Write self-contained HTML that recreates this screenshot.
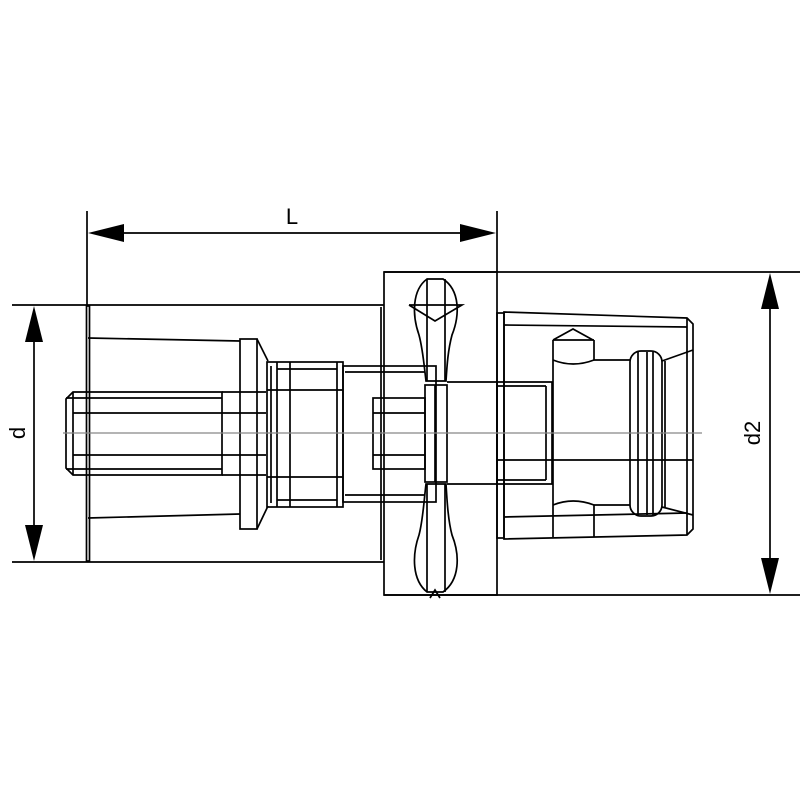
<!DOCTYPE html>
<html><head><meta charset="utf-8"><style>html,body{margin:0;padding:0;background:#fff}svg{display:block}</style></head>
<body>
<svg width="800" height="800" viewBox="0 0 800 800" xmlns="http://www.w3.org/2000/svg">
<g fill="none" stroke="#000" stroke-width="1.7">
<line x1="87" y1="211" x2="87" y2="305"/>
<line x1="497" y1="211" x2="497" y2="272"/>
<line x1="12" y1="305" x2="384" y2="305"/>
<line x1="12" y1="562" x2="384" y2="562"/>
<line x1="384" y1="272" x2="800" y2="272"/>
<line x1="384" y1="595" x2="800" y2="595"/>
<line x1="100" y1="233" x2="485" y2="233"/>
<line x1="34" y1="320" x2="34" y2="548"/>
<line x1="770" y1="285" x2="770" y2="582"/>
<rect x="86.5" y="306" width="3" height="255"/>
<polyline points="88,338 240,341"/>
<polyline points="88,518 240,514"/>
<rect x="240" y="339" width="17" height="190"/>
<polyline points="257,339 268,361"/>
<polyline points="257,529 268,506"/>
<polygon points="73,392 222,392 222,475 73,475 66,468 66,399"/>
<line x1="66" y1="398" x2="222" y2="398"/>
<line x1="66" y1="469" x2="222" y2="469"/>
<line x1="73" y1="413" x2="266" y2="413"/>
<line x1="73" y1="455" x2="266" y2="455"/>
<line x1="73" y1="392" x2="73" y2="475"/>
<line x1="222" y1="392" x2="266" y2="392"/>
<line x1="222" y1="475" x2="266" y2="475"/>
<rect x="267" y="362" width="76" height="145"/>
<line x1="271" y1="366" x2="271" y2="503"/>
<line x1="277" y1="362" x2="277" y2="507"/>
<line x1="290" y1="362" x2="290" y2="507"/>
<line x1="337" y1="362" x2="337" y2="507"/>
<line x1="277" y1="369" x2="337" y2="369"/>
<line x1="277" y1="500" x2="337" y2="500"/>
<line x1="267" y1="390" x2="343" y2="390"/>
<line x1="267" y1="477" x2="343" y2="477"/>
<rect x="343" y="366" width="93" height="136"/>
<line x1="345" y1="372" x2="425" y2="372"/>
<line x1="345" y1="495" x2="425" y2="495"/>
<rect x="373" y="398" width="52" height="71"/>
<line x1="373" y1="413" x2="425" y2="413"/>
<line x1="373" y1="455" x2="425" y2="455"/>
<rect x="384" y="272" width="113" height="323"/>
<line x1="381" y1="307" x2="381" y2="560"/>
<path d="M427,279 L443,279 C460,290 460,315 452,335 C448,350 447,365 446,381 L426,381 C424,365 423,350 419,335 C412,315 412,290 427,279 Z"/>
<path d="M427,592 L443,592 C460,580 460,555 452,535 C448,520 447,500 446,484 L426,484 C424,500 423,520 419,535 C412,555 412,580 427,592 Z"/>
<line x1="427" y1="279" x2="427" y2="381"/>
<line x1="445" y1="279" x2="445" y2="381"/>
<line x1="427" y1="484" x2="427" y2="592"/>
<line x1="445" y1="484" x2="445" y2="592"/>
<polyline points="409,305 462,305 435,321 409,305"/>
<polyline points="430,598 435,590 440,598"/>
<rect x="425" y="385" width="22" height="97"/>
<line x1="435" y1="385" x2="435" y2="482"/>
<polyline points="447,382 552,382 552,484 447,484"/>
<line x1="497" y1="382" x2="497" y2="484"/>
<line x1="546" y1="386" x2="546" y2="480"/>
<line x1="497" y1="386" x2="546" y2="386"/>
<line x1="497" y1="480" x2="546" y2="480"/>
<polygon points="504,312 687,318 693,324 693,529 687,535 504,539"/>
<rect x="497" y="313" width="7" height="225"/>
<line x1="504" y1="325" x2="687" y2="327"/>
<line x1="687" y1="318" x2="687" y2="535"/>
<line x1="504" y1="517" x2="687" y2="513"/>
<line x1="497" y1="460" x2="693" y2="460"/>
<line x1="553" y1="340" x2="553" y2="537"/>
<line x1="553" y1="340" x2="594" y2="340"/>
<line x1="594" y1="340" x2="594" y2="360"/>
<line x1="594" y1="505" x2="594" y2="537"/>
<polyline points="553,340 573,329 593,340"/>
<path d="M553,360 Q573,368 594,360"/>
<path d="M553,505 Q573,497 594,505"/>
<line x1="594" y1="360" x2="630" y2="360"/>
<line x1="594" y1="505" x2="630" y2="505"/>
<rect x="630" y="351" width="32" height="165" rx="11"/>
<line x1="638" y1="352" x2="638" y2="515"/>
<line x1="647" y1="352" x2="647" y2="515"/>
<line x1="653" y1="352" x2="653" y2="515"/>
<line x1="665" y1="361" x2="665" y2="507"/>
<polyline points="662,361 693,350"/>
<polyline points="662,507 693,515"/>
</g>
<line x1="63" y1="433" x2="702" y2="433" stroke="#888" stroke-width="1.2"/>
<g fill="#000">
<polygon points="88,233 124,224 124,242"/>
<polygon points="496,233 460,224 460,242"/>
<polygon points="34,306 25,342 43,342"/>
<polygon points="34,561 25,525 43,525"/>
<polygon points="770,273 761,309 779,309"/>
<polygon points="770,594 761,558 779,558"/>
</g>
<g font-family="Liberation Sans, sans-serif" font-size="22" fill="#000">
<text x="292" y="224" text-anchor="middle">L</text>
<text transform="translate(25,433) rotate(-90)" text-anchor="middle">d</text>
<text transform="translate(760,433) rotate(-90)" text-anchor="middle">d2</text>
</g>
</svg>
</body></html>
